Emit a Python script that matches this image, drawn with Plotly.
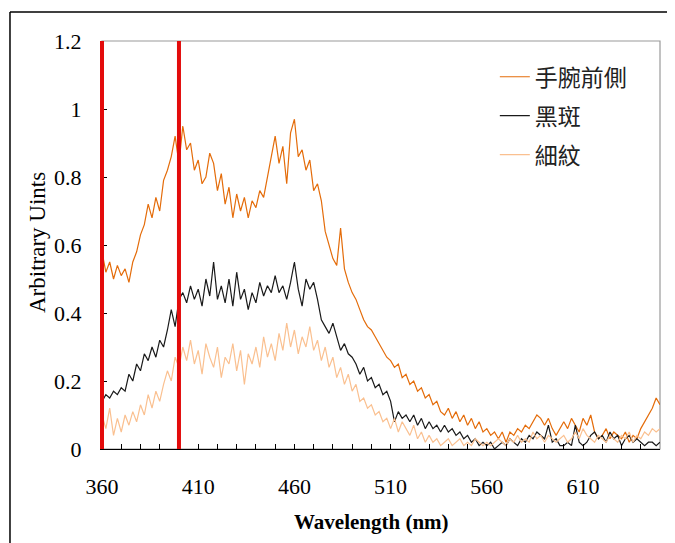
import plotly.graph_objects as go

# ---------------- data ----------------
wavelength = list(range(360, 651, 2))

wrist = [
    0.58, 0.52, 0.55, 0.50, 0.54,
    0.51, 0.53, 0.49, 0.55, 0.58,
    0.63, 0.66, 0.72, 0.68, 0.74,
    0.70, 0.79, 0.82, 0.86, 0.92,
    0.84, 0.95, 0.88, 0.90, 0.82,
    0.85, 0.78, 0.80, 0.87, 0.84,
    0.76, 0.81, 0.72, 0.77, 0.68,
    0.75, 0.70, 0.74, 0.68, 0.73,
    0.71, 0.76, 0.74, 0.80, 0.86,
    0.92, 0.84, 0.89, 0.78, 0.93,
    0.97, 0.86, 0.88, 0.82, 0.85,
    0.76, 0.78, 0.73, 0.64, 0.60,
    0.56, 0.54, 0.65, 0.53, 0.49,
    0.46, 0.44, 0.41, 0.38, 0.36,
    0.35, 0.33, 0.31, 0.29, 0.27,
    0.26, 0.24, 0.25, 0.21, 0.22,
    0.19, 0.20, 0.17, 0.18, 0.15,
    0.16, 0.13, 0.14, 0.11, 0.10,
    0.12, 0.09, 0.11, 0.08, 0.10,
    0.07, 0.09, 0.06, 0.08, 0.05,
    0.06, 0.04, 0.05, 0.03, 0.05,
    0.02, 0.05, 0.04, 0.06, 0.05,
    0.07, 0.06, 0.08, 0.10, 0.09,
    0.07, 0.09, 0.06, 0.04, 0.06,
    0.08, 0.06, 0.09, 0.07, 0.05,
    0.09, 0.07, 0.10, 0.05, 0.03,
    0.04, 0.06, 0.03, 0.05, 0.04,
    0.03, 0.05, 0.02, 0.04, 0.03,
    0.06, 0.08, 0.10, 0.12, 0.15,
    0.13,
]

spot = [
    0.14, 0.16, 0.15, 0.17, 0.16,
    0.18, 0.17, 0.22, 0.20, 0.25,
    0.23, 0.28, 0.26, 0.30, 0.27,
    0.32, 0.30, 0.35, 0.41, 0.36,
    0.44, 0.46, 0.43, 0.48, 0.44,
    0.47, 0.42, 0.50, 0.45, 0.55,
    0.44, 0.48, 0.43, 0.50, 0.42,
    0.52, 0.44, 0.47, 0.41, 0.46,
    0.43, 0.49, 0.45, 0.48, 0.46,
    0.51, 0.46, 0.48, 0.44, 0.49,
    0.55, 0.47, 0.42, 0.50, 0.47,
    0.49, 0.44, 0.38, 0.36, 0.34,
    0.37, 0.33, 0.29, 0.31, 0.28,
    0.27, 0.25, 0.22, 0.24, 0.20,
    0.21, 0.18, 0.19, 0.16, 0.17,
    0.14, 0.08, 0.11, 0.09, 0.10,
    0.08, 0.10, 0.07, 0.09, 0.06,
    0.08, 0.06, 0.07, 0.05, 0.07,
    0.05, 0.06, 0.04, 0.05, 0.03,
    0.04, 0.02, 0.03, 0.01, 0.02,
    0.01, 0.02, 0.00, 0.01, 0.02,
    0.01, 0.03, 0.02, 0.01, 0.03,
    0.02, 0.04, 0.03, 0.05, 0.04,
    0.03, 0.07, 0.02, 0.03, 0.01,
    0.01, 0.02, 0.01, 0.07, 0.02,
    0.01, 0.02, 0.04, 0.05, 0.03,
    0.04, 0.02, 0.05, 0.03, 0.04,
    0.01, 0.03, 0.04, 0.02, 0.03,
    0.02, 0.01, 0.02, 0.02, 0.01,
    0.02,
]

wrinkle = [
    0.10, 0.06, 0.12, 0.04, 0.09,
    0.05, 0.10, 0.07, 0.11, 0.08,
    0.13, 0.10, 0.16, 0.12, 0.17,
    0.14, 0.19, 0.23, 0.20, 0.27,
    0.24, 0.30, 0.26, 0.32, 0.25,
    0.29, 0.22, 0.31, 0.27, 0.24,
    0.30, 0.21, 0.27, 0.25, 0.31,
    0.23, 0.29, 0.19, 0.28, 0.25,
    0.30, 0.24, 0.33, 0.27, 0.31,
    0.26, 0.34, 0.29, 0.37, 0.30,
    0.35, 0.28, 0.33, 0.30, 0.36,
    0.29, 0.32, 0.26, 0.30, 0.24,
    0.27, 0.21, 0.24, 0.19, 0.22,
    0.17, 0.19, 0.14, 0.15, 0.12,
    0.13, 0.10, 0.11, 0.08, 0.09,
    0.06, 0.09, 0.05, 0.08, 0.06,
    0.04, 0.07, 0.03, 0.05, 0.02,
    0.04, 0.02, 0.03, 0.01, 0.02,
    0.03, 0.01, 0.02, 0.03, 0.01,
    0.02, 0.01, 0.03, 0.02, 0.01,
    0.02, 0.01, 0.02, 0.03, 0.02,
    0.01, 0.03, 0.02, 0.04, 0.02,
    0.03, 0.02, 0.05, 0.03, 0.04,
    0.02, 0.04, 0.03, 0.02, 0.03,
    0.04, 0.02, 0.03, 0.05, 0.03,
    0.06, 0.04, 0.03, 0.02, 0.04,
    0.03, 0.02, 0.04, 0.03, 0.02,
    0.04, 0.03, 0.05, 0.02, 0.04,
    0.03, 0.05, 0.04, 0.06, 0.05,
    0.06,
]

series_names = ["手腕前側", "黑斑", "細紋"]
series_colors = ["#E46C0A", "#1A1A1A", "#FAC090"]
red_lines = [360, 400]

x_ticks = [360, 410, 460, 510, 560, 610]
y_ticks = [0, 0.2, 0.4, 0.6, 0.8, 1, 1.2]
y_tick_text = ["0", "0.2", "0.4", "0.6", "0.8", "1", "1.2"]

# ---------------- figure ----------------
fig = go.Figure()
for name, vals, col in zip(series_names, [wrist, spot, wrinkle], series_colors):
    fig.add_trace(go.Scatter(
        x=wavelength, y=vals, mode="lines", name=name,
        legendgroup=name,
        line=dict(color=col, width=1.2),
    ))

serif = "Liberation Serif"
red = "#E30B0B"

shapes = []
# gray plot frame
shapes.append(dict(type="rect", xref="paper", yref="paper", x0=0, x1=1, y0=0, y1=1,
                   line=dict(color="#9A9A9A", width=1.2), layer="below"))
# red vertical lines
for xv in red_lines:
    shapes.append(dict(type="line", xref="x", yref="paper", x0=xv, x1=xv, y0=0, y1=1,
                       line=dict(color=red, width=4)))
# outer black border (left and top)
shapes.append(dict(type="line", xref="paper", yref="paper", x0=-0.1649, x1=-0.1649,
                   y0=-0.25, y1=1.0711, line=dict(color="black", width=1.5)))
shapes.append(dict(type="line", xref="paper", yref="paper", x0=-0.1649, x1=1.05,
                   y0=1.0711, y1=1.0711, line=dict(color="black", width=1.5)))

# page has an 8px body margin; plot area targets page x 102-660, y 41-449
fig.update_layout(
    width=667, height=535,
    margin=dict(l=94, r=15, t=33, b=94),
    paper_bgcolor="white", plot_bgcolor="white",
    font=dict(family=serif, color="black"),
    shapes=shapes,
    showlegend=True,
    legend=dict(
        x=0.704, y=0.965, xanchor="left", yanchor="top",
        bgcolor="rgba(0,0,0,0)",
        font=dict(family="Noto Sans CJK TC", size=23, color="#222"),
        tracegroupgap=6,
    ),
    xaxis=dict(
        range=[360, 650], tickvals=x_ticks, ticks="inside", ticklen=5,
        tickcolor="black", showline=True, linecolor="black", linewidth=1.2,
        showgrid=False, zeroline=False, ticklabelstandoff=17,
        tickfont=dict(family=serif, size=22, color="black"),
        minor=dict(dtick=10, tick0=360, ticks="inside", ticklen=5, tickcolor="black"),
    ),
    yaxis=dict(
        range=[0, 1.2], tickvals=y_ticks, ticktext=y_tick_text, ticks="inside",
        ticklen=5, tickcolor="black", showline=True, linecolor=red, linewidth=2,
        showgrid=False, zeroline=False, ticklabelstandoff=14,
        tickfont=dict(family=serif, size=22, color="black"),
    ),
    annotations=[
        dict(text="<b>Wavelength (nm)</b>", xref="paper", yref="paper",
             x=(371 - 102) / 558, y=(449 - 522) / 408, xanchor="center", yanchor="middle",
             showarrow=False, font=dict(family=serif, size=21, color="black")),
        dict(text="Arbitrary Uints", xref="paper", yref="paper",
             x=(37 - 102) / 558, y=(449 - 243) / 408, xanchor="center", yanchor="middle",
             textangle=-90, showarrow=False, font=dict(family=serif, size=23, color="black")),
    ],
)

fig.write_html("out.html")
